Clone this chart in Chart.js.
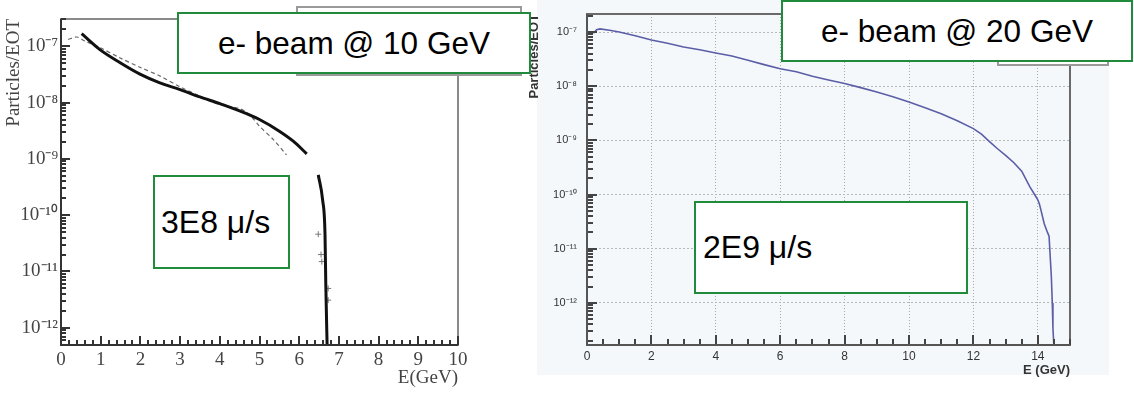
<!DOCTYPE html>
<html>
<head>
<meta charset="utf-8">
<script src="https://cdn.jsdelivr.net/npm/chart.js@4"></script>
<style>
  html, body { margin: 0; padding: 0; background: #fff; }
  body { width: 1134px; height: 398px; position: relative; overflow: hidden; font-family: "Liberation Sans", Arial, sans-serif; }
  canvas { position: absolute; top: 0; }
  #left-chart { left: 0; }
  #right-chart { left: 520px; }
  .tint { position: absolute; left: 537px; top: 0; width: 572px; height: 375px; background: #f5f8fb; }
  .legend-frame { position: absolute; border: 2px solid #9a9a9a; background: #fff; box-sizing: border-box; }
  .note { position: absolute; border: 2px solid #1f8b3b; background: #fff; color: #000; font-size: 31.5px;
          display: flex; align-items: center; box-sizing: border-box; white-space: nowrap; }
  .note.rate { font-size: 32px; }
</style>
</head>
<body>
<div class="tint"></div>
<canvas id="left-chart" width="475" height="398"></canvas>
<canvas id="right-chart" width="614" height="398"></canvas>

<div class="legend-frame" style="left:296px; top:6px; width:226px; height:70px;"></div>
<div class="legend-frame" style="left:997px; top:20px; width:112px; height:46px;"></div>

<div class="note" style="left:177px; top:12px; width:354px; height:62px; justify-content:center;">e- beam @ 10 GeV</div>
<div class="note rate" style="left:153px; top:175px; width:137px; height:94px; padding-left:6px;">3E8 μ/s</div>
<div class="note" style="left:781px; top:0px; width:352px; height:62px; justify-content:center;">e- beam @ 20 GeV</div>
<div class="note rate" style="left:694px; top:201px; width:274px; height:93px; padding-left:7px;">2E9 μ/s</div>

<script>
// tick values
const decades = [1e-12, 1e-11, 1e-10, 1e-9, 1e-8, 1e-7];
const leftXTicks = [0, 1, 2, 3, 4, 5, 6, 7, 8, 9, 10];
const rightXTicks = [0, 2, 4, 6, 8, 10, 12, 14];

// 10 GeV beam: solid curve (null = gap in the line)
const leftSolidE = [0.52, 0.98, 1.49, 1.99, 2.49, 3.0, 3.5, 4.0, 4.5, 5.0, 5.5, 5.85, 6.19, 6.3, 6.48, 6.59, 6.65, 6.67, 6.71];
const leftSolidN = [1.67e-7, 8.7e-8, 5.1e-8, 3.2e-8, 2.24e-8, 1.7e-8, 1.26e-8, 9.6e-9, 7.1e-9, 5.0e-9, 3.1e-9, 2.06e-9, 1.23e-9, null, 5.2e-10, 1.86e-10, 4.6e-11, 5.9e-12, 3e-13];

// 10 GeV beam: dashed comparison curve
const leftDashE = [0.18, 0.4, 0.6, 0.98, 1.49, 2.0, 2.5, 3.0, 3.5, 4.0, 4.5, 4.75, 5.0, 5.35, 5.68];
const leftDashN = [1.32e-7, 1.46e-7, 1.24e-7, 9.5e-8, 6.2e-8, 4.2e-8, 2.95e-8, 1.9e-8, 1.3e-8, 9.2e-9, 7.8e-9, 6.1e-9, 3.8e-9, 2.2e-9, 1.18e-9];

// 10 GeV beam: scattered tail points
const leftCrossE = [6.48, 6.55, 6.57, 6.73, 6.73];
const leftCrossN = [4.6e-11, 2.0e-11, 1.5e-11, 5e-12, 3.1e-12];

// 20 GeV beam
const rightE = [0.2, 0.3, 0.4, 0.7, 1.0, 1.5, 2.0, 2.5, 3.0, 3.5, 4.0, 4.5, 5.0, 5.5, 6.0, 6.5, 7.0, 7.5, 8.0, 8.5, 9.0, 9.5, 10.0,
                10.5, 11.0, 11.5, 12.0, 12.25, 12.5, 12.75, 13.0, 13.25, 13.5, 13.75, 13.9, 14.0, 14.05, 14.1, 14.2, 14.3, 14.35,
                14.4, 14.42, 14.45, 14.47, 14.5];
const rightN = [9.5e-8, 1.1e-7, 1.14e-7, 1.08e-7, 1.0e-7, 8.5e-8, 7.1e-8, 6.2e-8, 5.3e-8, 4.7e-8, 4.1e-8, 3.6e-8, 3.0e-8, 2.5e-8,
                2.1e-8, 1.85e-8, 1.53e-8, 1.3e-8, 1.12e-8, 9.4e-9, 7.8e-9, 6.4e-9, 5.1e-9, 4.0e-9, 3.1e-9, 2.3e-9, 1.65e-9,
                1.3e-9, 9.5e-10, 7e-10, 5.3e-10, 3.9e-10, 2.7e-10, 1.4e-10, 1.0e-10, 8e-11, 6.7e-11, 5.1e-11, 2.9e-11, 2.0e-11,
                1.7e-11, 5e-12, 3.1e-12, 1e-12, 3.4e-13, 1.6e-13];

function zip(xs, ys) {
    return xs.map((x, i) => ({ x: x, y: ys[i] }));
}

const SUP = { '-': '\u207B', '0': '\u2070', '1': '\u00B9', '2': '\u00B2', '3': '\u00B3', '4': '\u2074',
              '5': '\u2075', '6': '\u2076', '7': '\u2077', '8': '\u2078', '9': '\u2079' };
function powLabel(v) {
    const e = Math.round(Math.log10(v));
    return '10' + String(e).split('').map(c => SUP[c]).join('');
}

function fixSize(prop, size) {
    return function (scale) {
        scale[prop] = size;
        scale.paddingLeft = scale.paddingRight = scale.paddingTop = scale.paddingBottom = 0;
    };
}

// ROOT style inward ticks + frame, config kept in a closure
function frameTicks(cfg) {
    return {
        id: 'frameTicks' + cfg.name,
        afterDraw(chart) {
            const ctx = chart.ctx, a = chart.chartArea;
            const x = chart.scales.x, y = chart.scales.y;
            ctx.save();
            ctx.lineWidth = cfg.frameWidth;
            ctx.strokeStyle = cfg.frameColor;
            ctx.strokeRect(a.left, a.top, a.right - a.left, a.bottom - a.top);

            ctx.fillStyle = cfg.tickColor;
            const nx = Math.round((x.max - x.min) / cfg.xMinor);
            for (let i = 0; i <= nx; i++) {
                const v = x.min + i * cfg.xMinor;
                const px = Math.round(x.getPixelForValue(v));
                const r = v / cfg.xMajor;
                const len = Math.abs(r - Math.round(r)) < 1e-6 ? cfg.majorLen : cfg.minorLen;
                ctx.fillRect(px - 1, Math.round(a.bottom) - len, 2, len);
            }
            for (let d = -14; d <= -6; d++) {
                for (let k = 1; k < 10; k++) {
                    const v = k * Math.pow(10, d);
                    if (v < y.min || v > y.max) continue;
                    const py = Math.round(y.getPixelForValue(v));
                    const len = k === 1 ? cfg.majorLen : cfg.minorLen;
                    ctx.fillRect(Math.round(a.left), py - 1, len, 2);
                }
            }

            ctx.lineWidth = cfg.frameWidth;
            ctx.strokeStyle = cfg.axisColor;
            ctx.beginPath();
            ctx.moveTo(a.left, a.top);
            ctx.lineTo(a.left, a.bottom);
            ctx.lineTo(a.right, a.bottom);
            ctx.stroke();
            ctx.restore();
        }
    };
}

const serif = { family: 'Liberation Serif', size: 19 };
const sans = { family: 'Liberation Sans', size: 12 };
const sansTitle = { family: 'Liberation Sans', size: 13, weight: 'bold' };

// left: 10 GeV
new Chart(document.getElementById('left-chart'), {
    type: 'line',
    data: {
        datasets: [
            { data: zip(leftSolidE, leftSolidN), borderColor: '#111', borderWidth: 3, pointRadius: 0,
              cubicInterpolationMode: 'monotone', spanGaps: false },
            { data: zip(leftDashE, leftDashN), borderColor: '#666', borderWidth: 1.2, borderDash: [4, 3],
              pointRadius: 0, tension: 0.3 },
            { type: 'scatter', data: zip(leftCrossE, leftCrossN), pointStyle: 'cross', pointRadius: 3,
              borderColor: '#777', borderWidth: 1 }
        ]
    },
    options: {
        responsive: false,
        animation: false,
        devicePixelRatio: 1,
        layout: { padding: { left: 0, top: 19, right: 17, bottom: 0 } },
        plugins: { legend: { display: false }, tooltip: { enabled: false } },
        scales: {
            x: {
                type: 'linear', min: 0, max: 10,
                afterBuildTicks: s => { s.ticks = leftXTicks.map(v => ({ value: v })); },
                afterFit: fixSize('height', 53),
                grid: { display: false, drawTicks: false },
                border: { display: false },
                ticks: { font: serif, color: '#444', padding: 4, maxRotation: 0, autoSkip: false },
                title: { display: true, text: 'E(GeV)', align: 'end', font: serif, color: '#444',
                         padding: { top: 0, bottom: 9 } }
            },
            y: {
                type: 'logarithmic', min: 4.95e-13, max: 3.05e-7,
                afterBuildTicks: s => { s.ticks = decades.map(v => ({ value: v })); },
                afterFit: fixSize('width', 61),
                grid: { display: false, drawTicks: false },
                border: { display: false },
                ticks: { font: serif, color: '#444', padding: 3, autoSkip: false, callback: v => powLabel(v) },
                title: { display: true, text: 'Particles/EOT', align: 'end', font: serif, color: '#444',
                         padding: { top: 3, bottom: 0 } }
            }
        }
    },
    plugins: [frameTicks({ name: 'L', xMinor: 0.2, xMajor: 1, majorLen: 9, minorLen: 5,
                           tickColor: '#333', frameColor: '#8a8a8a', frameWidth: 2, axisColor: '#333' })]
});

// right: 20 GeV
new Chart(document.getElementById('right-chart'), {
    type: 'line',
    data: {
        datasets: [
            { data: zip(rightE, rightN), borderColor: '#5b5ea6', borderWidth: 1.6, pointRadius: 0, tension: 0 }
        ]
    },
    options: {
        responsive: false,
        animation: false,
        devicePixelRatio: 1,
        layout: { padding: { left: 0, top: 14, right: 64, bottom: 0 } },
        plugins: { legend: { display: false }, tooltip: { enabled: false } },
        scales: {
            x: {
                type: 'linear', min: 0, max: 15,
                afterBuildTicks: s => { s.ticks = rightXTicks.map(v => ({ value: v })); },
                afterFit: fixSize('height', 53),
                grid: { display: true, drawTicks: false, color: '#a8a8a8', lineWidth: 1 },
                border: { display: false, dash: [1, 2] },
                ticks: { font: sans, color: '#333', padding: 4, maxRotation: 0, autoSkip: false },
                title: { display: true, text: 'E (GeV)', align: 'end', font: sansTitle, color: '#333',
                         padding: { top: 0, bottom: 20 } }
            },
            y: {
                type: 'logarithmic', min: 1.67e-13, max: 2.15e-7,
                afterBuildTicks: s => { s.ticks = decades.map(v => ({ value: v })); },
                afterFit: fixSize('width', 67),
                grid: { display: true, drawTicks: false, color: '#b8b8b8', lineWidth: 1 },
                border: { display: false, dash: [2, 2] },
                ticks: { font: { family: 'Liberation Sans', size: 11 }, color: '#333', padding: 10, autoSkip: false,
                         callback: v => powLabel(v) },
                title: { display: true, text: 'Particles/EOT', align: 'end', font: sansTitle, color: '#333',
                         padding: { top: 7, bottom: 0 } }
            }
        }
    },
    plugins: [frameTicks({ name: 'R', xMinor: 0.5, xMajor: 2, majorLen: 10, minorLen: 6,
                           tickColor: '#444', frameColor: '#6a6a6a', frameWidth: 2, axisColor: '#555' })]
});
</script>
</body>
</html>
